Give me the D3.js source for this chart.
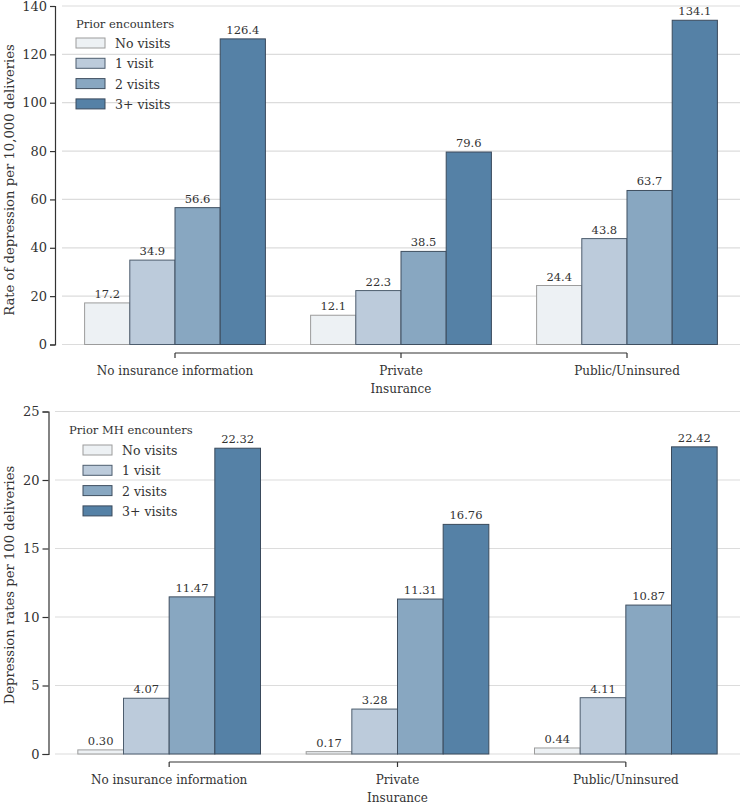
<!DOCTYPE html>
<html>
<head>
<meta charset="utf-8">
<script src="https://cdn.jsdelivr.net/npm/d3@7"></script>
<style>
  html, body { margin: 0; padding: 0; background: #fff; }
  svg { display: block; }
  text { font-family: "DejaVu Serif", "Liberation Serif", serif; fill: #333; }
</style>
</head>
<body>
<svg id="chart" width="743" height="804"></svg>
<script>
// ---- Data ----
const categories = ["No insurance information", "Private", "Public/Uninsured"];
const seriesNames = ["No visits", "1 visit", "2 visits", "3+ visits"];
const seriesColors = ["#edf1f4", "#bccbdb", "#88a7c1", "#5581a6"];
const seriesStrokes = ["#9c9c9c", "#4d5d6e", "#3f4f60", "#3a4a5c"];

// Top chart: rate per 10,000 deliveries
const topNoVisits = [17.2, 12.1, 24.4];
const topOneVisit = [34.9, 22.3, 43.8];
const topTwoVisits = [56.6, 38.5, 63.7];
const topThreePlus = [126.4, 79.6, 134.1];
const topTicks = [0, 20, 40, 60, 80, 100, 120, 140];
const topLabelFmt = ".1f";

// Bottom chart: rate per 100 deliveries
const botNoVisits = [0.30, 0.17, 0.44];
const botOneVisit = [4.07, 3.28, 4.11];
const botTwoVisits = [11.47, 11.31, 10.87];
const botThreePlus = [22.32, 16.76, 22.42];
const botTicks = [0, 5, 10, 15, 20, 25];
const botLabelFmt = ".2f";

const svg = d3.select("#chart");

function drawChart(cfg) {
  const g = svg.append("g");
  const series = cfg.series;
  const x = d3.scaleBand().domain(categories).range([cfg.x0, cfg.x1]).paddingInner(0).paddingOuter(0);
  const xi = d3.scaleBand().domain(seriesNames).range([0, x.bandwidth() * 0.8]).padding(0);
  const y = d3.scaleLinear().domain([0, cfg.yMax]).range([cfg.yBottom, cfg.yTop]);

  // gridlines
  g.append("g").selectAll("line").data(cfg.ticks).join("line")
    .attr("x1", cfg.x0).attr("x2", cfg.x1)
    .attr("y1", d => y(d)).attr("y2", d => y(d))
    .attr("stroke", "#dcdcdc").attr("stroke-width", 1.2);

  // y axis
  const yAxis = d3.axisLeft(y).tickValues(cfg.ticks).tickSize(cfg.yTickSize).tickPadding(3).tickFormat(d3.format("d"));
  const ya = g.append("g").attr("transform", `translate(${cfg.yAxisX},0)`).call(yAxis);
  ya.select(".domain").attr("stroke", "#333").attr("stroke-width", 1.2);
  ya.selectAll(".tick line").attr("stroke", "#333").attr("stroke-width", 1.2);
  ya.selectAll("text").attr("font-size", cfg.yTickFont).attr("fill", "#333")
    .attr("font-family", '"DejaVu Serif", serif');

  // bars
  const groups = g.append("g").selectAll("g").data(categories).join("g")
    .attr("transform", c => `translate(${x(c) + x.bandwidth() * 0.1},0)`);
  groups.each(function(c, ci) {
    const sel = d3.select(this);
    seriesNames.forEach((s, si) => {
      const v = series[si][ci];
      sel.append("rect")
        .attr("x", xi(s)).attr("width", xi.bandwidth())
        .attr("y", y(v)).attr("height", y(0) - y(v))
        .attr("fill", seriesColors[si]).attr("stroke", seriesStrokes[si]).attr("stroke-width", 1);
      sel.append("text")
        .attr("x", xi(s) + xi.bandwidth() / 2).attr("y", y(v) - 5)
        .attr("text-anchor", "middle").attr("font-size", cfg.valFont)
        .text(d3.format(cfg.fmt)(v));
    });
  });

  // x axis (trimmed between first and last category centers)
  const centers = categories.map(c => x(c) + x.bandwidth() / 2);
  g.append("line").attr("x1", centers[0]).attr("x2", centers[centers.length - 1])
    .attr("y1", cfg.xAxisY).attr("y2", cfg.xAxisY).attr("stroke", "#333").attr("stroke-width", 1.2);
  g.append("g").selectAll("line").data(centers).join("line")
    .attr("x1", d => d).attr("x2", d => d).attr("y1", cfg.xAxisY).attr("y2", cfg.xAxisY + 5)
    .attr("stroke", "#333").attr("stroke-width", 1.2);
  g.append("g").selectAll("text").data(categories).join("text")
    .attr("x", c => x(c) + x.bandwidth() / 2).attr("y", cfg.xAxisY + 22)
    .attr("text-anchor", "middle").attr("font-size", cfg.tickFont).text(c => c);
  g.append("text").attr("x", centers[1]).attr("y", cfg.xAxisY + 39.5)
    .attr("text-anchor", "middle").attr("font-size", cfg.tickFont).text("Insurance");

  // y title
  g.append("text").attr("transform", `translate(${cfg.yTitleX},${cfg.yTitleY}) rotate(-90)`)
    .attr("text-anchor", "middle").attr("font-size", cfg.titleFont).text(cfg.yTitle);

  // legend
  const lg = g.append("g");
  lg.append("text").attr("x", cfg.legTitleX).attr("y", cfg.legTitleY)
    .attr("font-size", cfg.legTitleFont).text(cfg.legTitle);
  seriesNames.forEach((s, i) => {
    const cy = cfg.legRow0 + i * 20.3;
    lg.append("rect").attr("x", cfg.legSwX).attr("y", cy - 5).attr("width", 29).attr("height", 10)
      .attr("fill", seriesColors[i]).attr("stroke", seriesStrokes[i]).attr("stroke-width", 1);
    lg.append("text").attr("x", cfg.legSwX + 39).attr("y", cy + 5)
      .attr("font-size", cfg.legFont).text(s);
  });
}

drawChart({
  series: [topNoVisits, topOneVisit, topTwoVisits, topThreePlus],
  ticks: topTicks, yMax: 140, fmt: topLabelFmt,
  x0: 62, x1: 740, yBottom: 344.5, yTop: 6,
  yAxisX: 55, yTickSize: 5, xAxisY: 353,
  tickFont: 12, yTickFont: 13, valFont: 11.5, titleFont: 13.2, legFont: 12.5, legTitleFont: 11.5,
  yTitle: "Rate of depression per 10,000 deliveries", yTitleX: 14, yTitleY: 180,
  legTitle: "Prior encounters", legTitleX: 76, legTitleY: 28, legSwX: 76, legRow0: 43
});

drawChart({
  series: [botNoVisits, botOneVisit, botTwoVisits, botThreePlus],
  ticks: botTicks, yMax: 25, fmt: botLabelFmt,
  x0: 55, x1: 740, yBottom: 754, yTop: 411.5,
  yAxisX: 48.5, yTickSize: 6, xAxisY: 762,
  tickFont: 12, yTickFont: 13, valFont: 11.5, titleFont: 13.2, legFont: 12.5, legTitleFont: 11.5,
  yTitle: "Depression rates per 100 deliveries", yTitleX: 14, yTitleY: 585,
  legTitle: "Prior MH encounters", legTitleX: 69, legTitleY: 434, legSwX: 83, legRow0: 450
});
</script>
</body>
</html>
